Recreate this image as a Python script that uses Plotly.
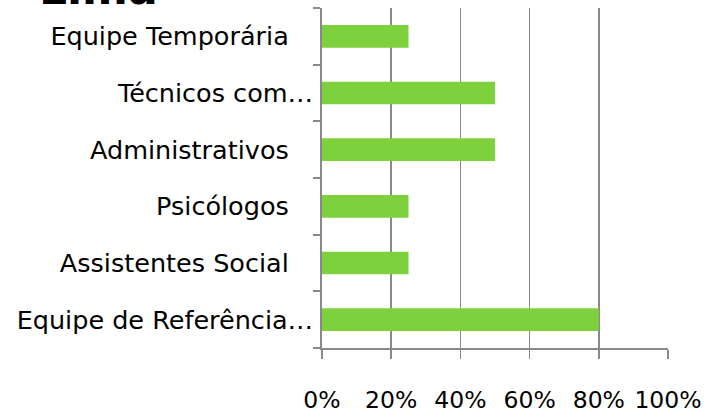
import plotly.graph_objects as go

title_text = "Lima"
categories = [
    "Equipe de Referência…",
    "Assistentes Social\u00a0\u00a0\u00a0",
    "Psicólogos\u00a0\u00a0\u00a0",
    "Administrativos\u00a0\u00a0\u00a0",
    "Técnicos com…",
    "Equipe Temporária\u00a0\u00a0\u00a0",
]
values = [0.80, 0.25, 0.25, 0.50, 0.50, 0.25]
x_ticks = [0, 0.2, 0.4, 0.6, 0.8, 1.0]
x_ticklabels = ["0%", "20%", "40%", "60%", "80%", "100%"]

GRAY = "#898989"
FONT = "DejaVu Sans"
LW = 1.8

fig = go.Figure(
    go.Bar(
        x=values,
        y=categories,
        orientation="h",
        marker=dict(color="#7ED13C", line=dict(width=0)),
        hoverinfo="skip",
    )
)

fig.update_layout(
    width=708,
    height=413,
    margin=dict(l=322, r=40, t=8, b=65, autoexpand=False),
    paper_bgcolor="white",
    plot_bgcolor="white",
    bargap=0.6,
    showlegend=False,
    font=dict(family=FONT, size=24, color="black"),
    annotations=[
        dict(
            text="<b>" + title_text + "</b>",
            font=dict(family=FONT, size=44, color="black"),
            xref="paper",
            yref="paper",
            x=(37 - 322) / 346,
            y=1,
            xanchor="left",
            yanchor="bottom",
            yshift=-8,
            showarrow=False,
        )
    ],
)

fig.update_xaxes(
    range=[0, 1],
    tickvals=x_ticks,
    ticktext=x_ticklabels,
    showgrid=True,
    gridcolor=GRAY,
    gridwidth=LW,
    zeroline=False,
    showline=True,
    linecolor=GRAY,
    linewidth=LW,
    ticks="outside",
    ticklen=9,
    tickcolor=GRAY,
    tickwidth=LW,
    ticklabelstandoff=21,
    tickfont=dict(family=FONT, size=23.5),
    automargin=False,
    fixedrange=True,
)

fig.update_yaxes(
    categoryorder="array",
    categoryarray=categories,
    showgrid=False,
    zeroline=False,
    showline=True,
    linecolor=GRAY,
    linewidth=LW,
    ticks="outside",
    tickson="boundaries",
    ticklen=7,
    tickcolor=GRAY,
    tickwidth=LW,
    ticklabelstandoff=2,
    tickfont=dict(family=FONT, size=25.5),
    automargin=False,
    fixedrange=True,
)

fig.write_html(
    "out.html",
    config=dict(displayModeBar=False, staticPlot=True),
    post_script="document.body.style.margin='0';document.body.style.overflow='hidden';",
)
